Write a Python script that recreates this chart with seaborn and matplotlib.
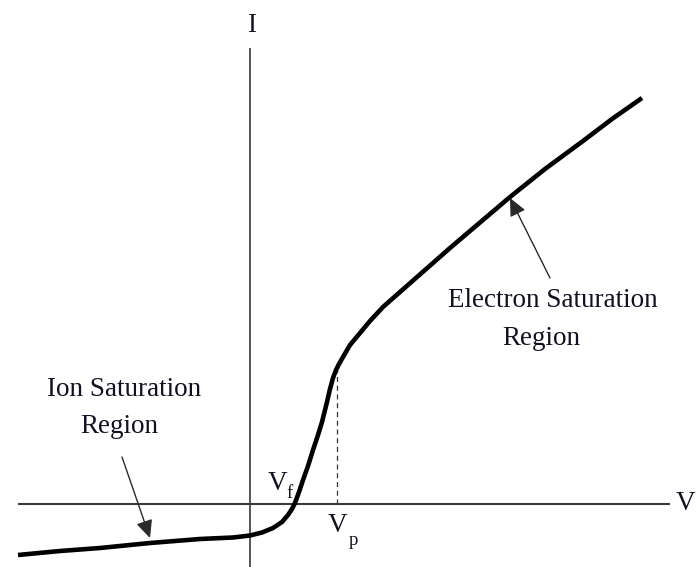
import matplotlib
matplotlib.use("Agg")
import matplotlib.pyplot as plt
import seaborn as sns
import pandas as pd

# Probe voltage and collected current (arbitrary units) along the I-V characteristic
voltage = [-23.2, -19.0, -15.0, -10.0, -5.0, -1.7, 0.0, 1.2, 2.3, 3.2, 3.8, 4.2,
           4.5, 4.9, 5.3, 5.8, 6.3, 6.8, 7.2, 7.7, 8.0, 8.3, 8.6, 8.9, 9.3, 10.0,
           11.0, 12.0, 13.3, 15.0, 20.0, 26.0, 29.5, 33.3, 36.2, 39.2]
current = [-5.1, -4.7, -4.4, -3.9, -3.5, -3.35, -3.15, -2.85, -2.4, -1.8, -1.1, -0.5,
           0.1, 1.2, 2.4, 3.8, 5.4, 6.9, 8.2, 10.2, 11.5, 12.6, 13.4, 14.0, 14.7, 15.9,
           17.1, 18.3, 19.7, 21.2, 25.6, 30.7, 33.5, 36.3, 38.5, 40.6]

# Characteristic potentials
v_float = 4.4
v_plasma = 8.7
i_at_plasma = 13.6

# Axis extents
v_axis = (-23.2, 42.0)
i_axis = (-6.4, 45.6)

sns.set_theme(style="white")
serif = ["Liberation Serif", "DejaVu Serif"]
plt.rcParams["font.family"] = serif

df = pd.DataFrame({"V": voltage, "I": current})

fig = plt.figure(figsize=(6.98, 5.67), dpi=100)
ax = fig.add_axes([0, 0, 1, 1])
ax.set_xlim(-25.0, 44.8)
ax.set_ylim(-6.3, 50.4)
ax.set_axis_off()

axis_col = "#3a3a3a"
ax.plot(v_axis, [0, 0], color=axis_col, lw=1.5, solid_capstyle="butt")
ax.plot([0, 0], i_axis, color=axis_col, lw=1.2, solid_capstyle="butt")

# Plasma potential marker
ax.plot([v_plasma, v_plasma], [0, i_at_plasma], color="#333333", lw=0.9,
        linestyle=(0, (4, 3)))

sns.lineplot(data=df, x="V", y="I", sort=False, estimator=None, ax=ax,
             color="black", lw=3.3, solid_capstyle="butt", solid_joinstyle="round")
ax.set_xlabel("")
ax.set_ylabel("")

txt = dict(color="#111122", family=serif)
big = 19.5
sub = 13.5

ax.text(0.2, 47.2, "I", fontsize=big, ha="center", va="baseline", **txt)
ax.text(43.6, -0.6, "V", fontsize=big, ha="center", va="baseline", **txt)

ax.text(2.7, 1.4, "V", fontsize=big, ha="center", va="baseline", **txt)
ax.text(4.0, 0.6, "f", fontsize=sub, ha="center", va="baseline", **txt)
ax.text(8.8, -2.8, "V", fontsize=big, ha="center", va="baseline", **txt)
ax.text(10.3, -4.1, "p", fontsize=sub, ha="center", va="baseline", **txt)

ax.text(-12.6, 10.8, "Ion Saturation", fontsize=big, ha="center", va="baseline", **txt)
ax.text(-13.1, 7.1, "Region", fontsize=big, ha="center", va="baseline", **txt)
ax.text(30.3, 19.7, "Electron Saturation", fontsize=big, ha="center", va="baseline", **txt)
ax.text(29.1, 15.9, "Region", fontsize=big, ha="center", va="baseline", **txt)

arrow = dict(arrowstyle="-|>,head_length=0.6,head_width=0.28", color="#2a2a2a",
             lw=1.0, mutation_scale=18, shrinkA=0, shrinkB=0)
ax.annotate("", xy=(-10.0, -3.4), xytext=(-12.8, 4.7), arrowprops=arrow)
ax.annotate("", xy=(26.0, 30.6), xytext=(30.0, 22.6), arrowprops=arrow)

fig.savefig("out.png", dpi=100, facecolor="white")
